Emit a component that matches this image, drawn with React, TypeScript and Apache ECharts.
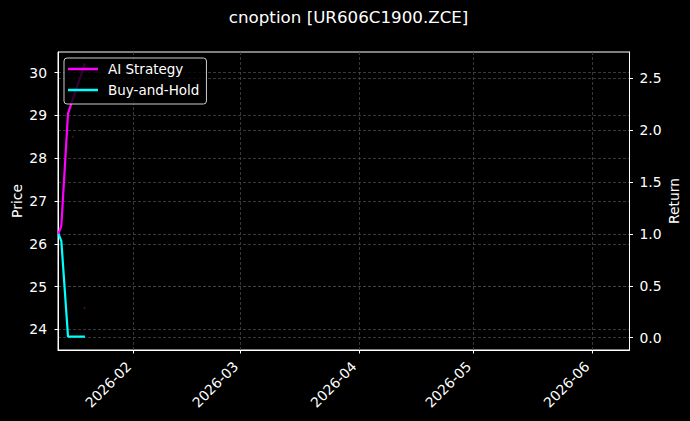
import React, { useEffect, useRef } from "react";
import * as echarts from "echarts";

const FONT = "DejaVu Sans";

// x positions of the samples (local time)
const dates = [
  "2026-01-12 08:00",
  "2026-01-13 02:00",
  "2026-01-14 20:00",
  "2026-01-19 06:00",
];
const aiStrategy = [1.0, 1.08, 2.16, 2.64];
const buyAndHold = [1.0, 0.93, 0.01, 0.01];

// faint price marks on the left axis
const priceDates = ["2026-01-16 01:00", "2026-01-19 04:00"];
const priceValues = [28.5, 24.5];

const monthTicks = ["2026-02", "2026-03", "2026-04", "2026-05", "2026-06"];
const priceTicks = [24, 25, 26, 27, 28, 29, 30];
const returnTicks = [0, 0.5, 1.0, 1.5, 2.0, 2.5];

const ts = (s: string) => new Date(s.replace(" ", "T")).getTime();

const App: React.FC = () => {
  const chartRef = useRef<HTMLDivElement>(null);

  useEffect(() => {
    document.body.style.margin = "0";
    document.body.style.background = "#000";
    if (!chartRef.current) return;
    const chart = echarts.init(chartRef.current, null, { renderer: "svg" });

    const gridLine = { color: "#464646", width: 0.8, type: [3, 2] as number[] };
    const axisText = { color: "#fff", fontSize: 13.9, fontFamily: FONT };
    const monthValues = monthTicks.map((m) => ts(m + "-01 00:00"));

    const option: echarts.EChartsOption = {
      animation: false,
      backgroundColor: "#000",
      title: {
        text: "cnoption [UR606C1900.ZCE]",
        left: 343.6,
        textAlign: "center",
        top: 3,
        textStyle: { color: "#fff", fontSize: 16.7, fontWeight: "normal", fontFamily: FONT },
      },
      grid: {
        left: 58,
        right: 60.5,
        top: 52,
        bottom: 71,
        containLabel: false,
        outerBoundsMode: "none",
        show: true,
        borderColor: "#fff",
        borderWidth: 1,
        backgroundColor: "transparent",
      } as any,
      legend: {
        orient: "vertical",
        left: 64,
        top: 58,
        data: [
          { name: "AI Strategy", icon: "rect" },
          { name: "Buy-and-Hold", icon: "rect" },
        ],
        itemWidth: 30,
        itemHeight: 2.5,
        itemGap: 5,
        padding: [3, 7, 6, 4],
        backgroundColor: "rgba(0,0,0,0.8)",
        borderColor: "#ccc",
        borderWidth: 1,
        borderRadius: 3,
        textStyle: {
          color: "#fff",
          fontSize: 13.5,
          fontFamily: FONT,
          lineHeight: 16,
          padding: [0, 0, 0, 5],
        },
      },
      xAxis: {
        type: "value",
        min: ts("2026-01-12 05:00"),
        max: ts("2026-06-10 20:00"),
        axisLine: { show: true, onZero: false, lineStyle: { color: "#fff" } },
        axisTick: {
          show: true,
          length: 3.5,
          lineStyle: { color: "#fff" },
          customValues: monthValues,
        } as any,
        axisLabel: {
          ...axisText,
          rotate: 45,
          margin: 9,
          padding: [0, 7, 0, 0],
          customValues: monthValues,
          formatter: (v: number) => {
            const d = new Date(v);
            return d.getFullYear() + "-" + String(d.getMonth() + 1).padStart(2, "0");
          },
        } as any,
        splitLine: { show: true, lineStyle: gridLine },
      },
      yAxis: [
        {
          type: "value",
          position: "left",
          min: 23.52,
          max: 30.48,
          name: "Price",
          nameLocation: "middle",
          nameRotate: 90,
          nameGap: 34,
          nameMoveOverlap: false,
          nameTextStyle: axisText,
          axisLine: { show: true, lineStyle: { color: "#fff" } },
          axisTick: { show: true, length: 3.5, lineStyle: { color: "#fff" }, customValues: priceTicks } as any,
          axisLabel: { ...axisText, margin: 11, customValues: priceTicks } as any,
          splitLine: { show: true, lineStyle: gridLine },
        } as any,
        {
          type: "value",
          position: "right",
          min: -0.118,
          max: 2.75,
          name: "Return",
          nameLocation: "middle",
          nameRotate: 90,
          nameGap: 37,
          nameMoveOverlap: false,
          nameTextStyle: axisText,
          axisLine: { show: true, lineStyle: { color: "#fff" } },
          axisTick: { show: true, length: 3.5, lineStyle: { color: "#fff" }, customValues: returnTicks } as any,
          axisLabel: {
            ...axisText,
            margin: 10,
            customValues: returnTicks,
            formatter: (v: number) => v.toFixed(1),
          } as any,
          splitLine: { show: true, lineStyle: gridLine },
        } as any,
      ],
      series: [
        {
          name: "Price",
          type: "scatter",
          yAxisIndex: 0,
          symbolSize: 2,
          itemStyle: { color: "#5a1414" },
          data: priceDates.map((d, i) => [ts(d), priceValues[i]]),
          silent: true,
        },
        {
          name: "AI Strategy",
          type: "line",
          yAxisIndex: 1,
          showSymbol: false,
          data: dates.map((d, i) => [ts(d), aiStrategy[i]]),
          lineStyle: { width: 2.2, color: "#ff00ff" },
          itemStyle: { color: "#ff00ff" },
        },
        {
          name: "Buy-and-Hold",
          type: "line",
          yAxisIndex: 1,
          showSymbol: false,
          data: dates.map((d, i) => [ts(d), buyAndHold[i]]),
          lineStyle: { width: 2.2, color: "#00ffff" },
          itemStyle: { color: "#00ffff" },
        },
      ],
    };

    chart.setOption(option);
    return () => {
      chart.dispose();
    };
  }, []);

  return <div ref={chartRef} style={{ width: 690, height: 421 }} />;
};

export default App;
